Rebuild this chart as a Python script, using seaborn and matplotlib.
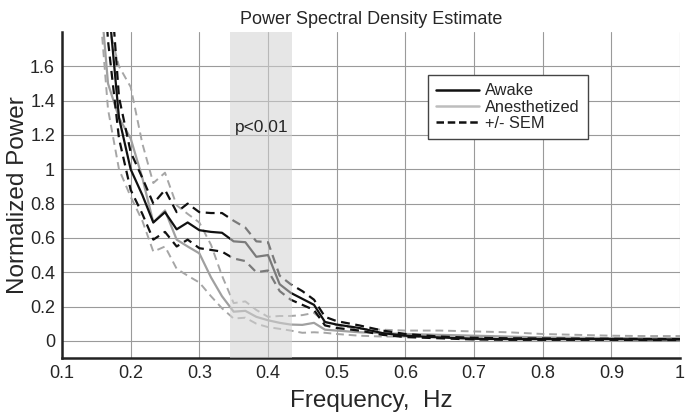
import numpy as np
import pandas as pd
import seaborn as sns
import matplotlib
matplotlib.use("Agg")
import matplotlib.pyplot as plt
from matplotlib.lines import Line2D

freq = [0.150, 0.167, 0.183, 0.200, 0.217, 0.233, 0.250, 0.267, 0.283, 0.300,
        0.317, 0.333, 0.350, 0.367, 0.383, 0.400, 0.417, 0.433, 0.450, 0.467,
        0.483, 0.500, 0.533, 0.567, 0.600, 0.650, 0.700, 0.750, 0.800, 0.850,
        0.900, 0.950, 1.000]

awake = [3.0, 2.0, 1.30, 1.00, 0.85, 0.69, 0.75, 0.65, 0.69, 0.645,
         0.635, 0.63, 0.58, 0.575, 0.49, 0.50, 0.33, 0.28, 0.245, 0.21,
         0.11, 0.095, 0.075, 0.045, 0.03, 0.02, 0.012, 0.010, 0.010, 0.010,
         0.010, 0.008, 0.008]
awake_hi = [3.2, 2.3, 1.42, 1.10, 0.95, 0.80, 0.88, 0.75, 0.80, 0.75,
            0.745, 0.745, 0.70, 0.66, 0.58, 0.575, 0.38, 0.33, 0.29, 0.24,
            0.14, 0.115, 0.09, 0.06, 0.04, 0.025, 0.018, 0.015, 0.014, 0.013,
            0.012, 0.010, 0.010]
awake_lo = [2.8, 1.75, 1.18, 0.88, 0.74, 0.59, 0.635, 0.55, 0.59, 0.54,
            0.53, 0.52, 0.48, 0.465, 0.40, 0.41, 0.29, 0.24, 0.21, 0.18,
            0.09, 0.075, 0.06, 0.035, 0.022, 0.015, 0.008, 0.006, 0.006, 0.006,
            0.006, 0.005, 0.005]

anes = [2.3, 1.50, 1.30, 1.18, 0.95, 0.69, 0.76, 0.59, 0.55, 0.51,
        0.37, 0.26, 0.17, 0.175, 0.14, 0.12, 0.105, 0.095, 0.093, 0.105,
        0.065, 0.06, 0.05, 0.045, 0.04, 0.035, 0.03, 0.025, 0.02, 0.018,
        0.016, 0.015, 0.015]
anes_hi = [2.6, 1.85, 1.60, 1.48, 1.15, 0.92, 0.98, 0.79, 0.74, 0.69,
           0.56, 0.38, 0.22, 0.23, 0.18, 0.14, 0.145, 0.145, 0.15, 0.163,
           0.11, 0.09, 0.07, 0.065, 0.06, 0.06, 0.055, 0.05, 0.04, 0.035,
           0.03, 0.028, 0.028]
anes_lo = [2.2, 1.35, 1.00, 0.84, 0.70, 0.52, 0.55, 0.42, 0.38, 0.34,
           0.26, 0.19, 0.13, 0.135, 0.10, 0.08, 0.07, 0.06, 0.047, 0.05,
           0.047, 0.04, 0.03, 0.025, 0.025, 0.02, 0.015, 0.012, 0.01, 0.01,
           0.01, 0.01, 0.01]

band = [0.345, 0.435]
xticks = [0.1, 0.2, 0.3, 0.4, 0.5, 0.6, 0.7, 0.8, 0.9, 1.0]
xticklabels = ["0.1", "0.2", "0.3", "0.4", "0.5", "0.6", "0.7", "0.8", "0.9", "1"]
yticks = [0, 0.2, 0.4, 0.6, 0.8, 1.0, 1.2, 1.4, 1.6]
yticklabels = ["0", "0.2", "0.4", "0.6", "0.8", "1", "1.2", "1.4", "1.6"]

sns.set_style("white")
plt.rcParams['font.family'] = ['Liberation Sans', 'DejaVu Sans']

fig = plt.figure(figsize=(6.85, 4.16), dpi=100)
ax = fig.add_axes([0.0905, 0.1394, 0.9022, 0.7836])

df = pd.DataFrame({"freq": freq, "awake": awake, "awake_hi": awake_hi, "awake_lo": awake_lo,
                   "anes": anes, "anes_hi": anes_hi, "anes_lo": anes_lo})

gray_d = "#a6a6a6"
gray_m = "#a0a0a0"
black = "#111111"

for col in ["anes_hi", "anes_lo"]:
    sns.lineplot(data=df, x="freq", y=col, ax=ax, color=gray_d, lw=1.4,
                 linestyle=(0, (4, 2.5)), zorder=3)
sns.lineplot(data=df, x="freq", y="anes", ax=ax, color=gray_m, lw=1.6, zorder=3)
for col in ["awake_hi", "awake_lo"]:
    sns.lineplot(data=df, x="freq", y=col, ax=ax, color=black, lw=1.6,
                 linestyle=(0, (4, 2.5)), zorder=4)
sns.lineplot(data=df, x="freq", y="awake", ax=ax, color=black, lw=1.6, zorder=4)

ax.axvspan(band[0], band[1], color="#d2d2d2", alpha=0.55, lw=0, zorder=5)
ax.text(0.391, 1.245, "p<0.01", ha="center", va="center", fontsize=12.5, zorder=6)

ax.set_xlim(0.1, 1.0)
ax.set_ylim(-0.1, 1.8)
ax.set_xticks(xticks)
ax.set_xticklabels(xticklabels)
ax.set_yticks(yticks)
ax.set_yticklabels(yticklabels)
ax.tick_params(axis="both", labelsize=13, length=0)
ax.tick_params(axis="x", pad=5)
ax.tick_params(axis="y", pad=5)
ax.grid(True, color="#9a9a9a", lw=0.8, zorder=0)
ax.set_axisbelow(True)

for s in ["top", "right"]:
    ax.spines[s].set_visible(False)
for s in ["left", "bottom"]:
    ax.spines[s].set_color("#222222")
    ax.spines[s].set_linewidth(1.8)

ax.set_xlabel("Frequency,  Hz", fontsize=17.5, labelpad=6)
ax.set_ylabel("Normalized Power", fontsize=17.5, labelpad=1)
ax.set_title("Power Spectral Density Estimate", fontsize=13, pad=6)

handles = [Line2D([], [], color=black, lw=1.8),
           Line2D([], [], color="#bdbdbd", lw=1.8),
           Line2D([], [], color=black, lw=1.8, linestyle=(0, (3, 1.5)))]
leg = ax.legend(handles, ["Awake", "Anesthetized", "+/- SEM"], loc="upper left",
                bbox_to_anchor=(0.592, 0.868), fontsize=11.8, frameon=True, fancybox=False,
                edgecolor="#444444", framealpha=1, handlelength=2.6, borderpad=0.5,
                labelspacing=0.08, handletextpad=0.4, borderaxespad=0)
leg.get_frame().set_linewidth(1.0)
leg.set_zorder(10)

fig.savefig("out.png", dpi=100)
